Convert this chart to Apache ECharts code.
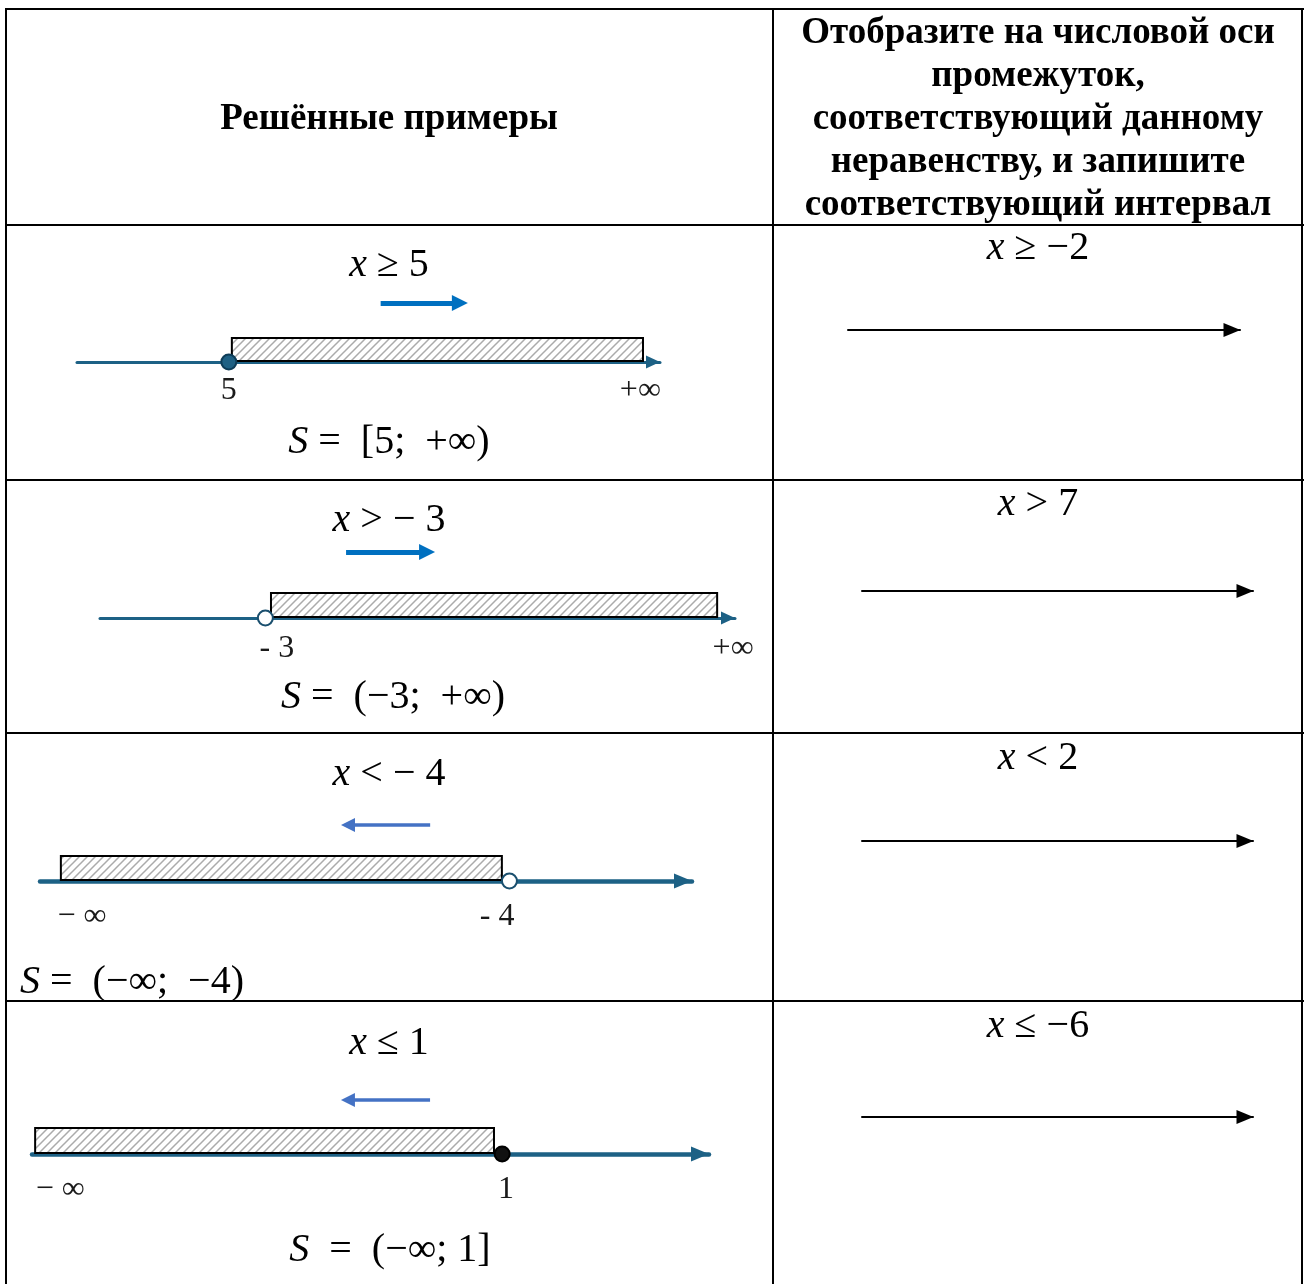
<!DOCTYPE html>
<html>
<head>
<meta charset="utf-8">
<script src="https://cdn.jsdelivr.net/npm/echarts@6/dist/echarts.min.js"></script>
<style>
html,body{margin:0;padding:0;background:#fff;}
#c{width:1306px;height:1284px;}
</style>
</head>
<body>
<div id="c"></div>
<script>
// ---------- DATA ----------
const headerLeft = 'Решённые примеры';
const headerRight = ['Отобразите на числовой оси', 'промежуток,', 'соответствующий данному', 'неравенству, и запишите', 'соответствующий интервал'];

const exInequalities = ['{i|x} ≥ 5', '{i|x} > − 3', '{i|x} < − 4', '{i|x} ≤ 1'];
const exSolutions = ['{i|S} =  [5;  +∞)', '{i|S} =  (−3;  +∞)', '{i|S} =  (−∞;  −4)', '{i|S}  =  (−∞; 1]'];
const exBoundary = [5, -3, -4, 1];
const exBoundaryClosed = [true, false, false, true];
const exShadeStart = [5.1, -2.83, -21.2, -13.9];
const exShadeEnd = [18.64, 10.66, -4.29, 0.74];
const exAxisMin = [0, -8, -22, -14];
const exAxisMax = [19.2, 11.2, 3, 7.6];
const exTickValues = [[5, 18.55], [-2.65, 11.14], [-20.39, -4.47], [-13.1, 1.12]];
const exTickLabels = [['5', '+∞'], ['- 3', '+∞'], ['− ∞', '- 4'], ['− ∞', '1']];
const exDirFrom = [10, -0.56, -7.04, -1.30];
const exDirTo = [12.61, 1.89, -10.19, -3.92];

const taskInequalities = ['{i|x} ≥ −2', '{i|x} > 7', '{i|x} < 2', '{i|x} ≤ −6'];

// ---------- LAYOUT / STYLE ----------
const exGridLeft = [77, 100, 40, 32];
const exGridEnd = [660, 735, 692, 709];
const exGridTop = [338, 593, 856, 1128];
const exAxisY = [362, 618, 881, 1154];
const exLineWidth = [3, 3, 4.5, 4.5];
const exArrowSize = [[13, 14], [13, 14], [15, 18], [15, 18]];
const exLabelMargin = [13, 15, 20, 20];
const arrowLevel = [2.46, 2.64, 2.24, 2.08];
const dirColor = ['#0070c0', '#0070c0', '#4472c4', '#4472c4'];
const dirWidth = [5, 5, 3.5, 3.5];
const dirSize = [16, 16, 14, 14];
const pointFill = ['#1f6184', '#ffffff', '#ffffff', '#111111'];
const pointStroke = ['#0e3d58', '#1a4f6e', '#1a4f6e', '#000000'];
const exIneqPos = [[389, 265], [389, 520], [389, 774], [389, 1043]];
const exSolPos = [[389, 442, 'center'], [393, 697, 'center'], [20, 982, 'left'], [390, 1250, 'center']];
const taskIneqPos = [[1038, 248], [1038, 504], [1038, 758], [1038, 1026]];
const taskLineLeft = [848, 862, 862, 862];
const taskLineEnd = [1240, 1253, 1253, 1253];
const taskLineY = [330, 591, 841, 1117];
const lineColor = '#1d6185';
const SERIF = '"Liberation Serif", "Times New Roman", serif';

function makeHatch() {
  const s = 8;
  const c = document.createElement('canvas');
  c.width = s; c.height = s;
  const g = c.getContext('2d');
  g.fillStyle = '#ffffff'; g.fillRect(0, 0, s, s);
  g.strokeStyle = '#ababab'; g.lineWidth = 1.5;
  g.beginPath();
  g.moveTo(-1, s + 1); g.lineTo(s + 1, -1);
  g.moveTo(-1, 1); g.lineTo(1, -1);
  g.moveTo(s - 1, s + 1); g.lineTo(s + 1, s - 1);
  g.stroke();
  return c;
}
const hatch = makeHatch();

const chart = echarts.init(document.getElementById('c'), null, {renderer: 'canvas'});

const grids = [], xAxes = [], yAxes = [], series = [];

for (let i = 0; i < 4; i++) {
  const h = exAxisY[i] - exGridTop[i];
  grids.push({left: exGridLeft[i], width: exGridEnd[i] - exGridLeft[i], top: exGridTop[i], height: h, outerBoundsMode: 'none', containLabel: false});
  const ticks = exTickValues[i], labs = exTickLabels[i];
  xAxes.push({
    gridIndex: i, type: 'value', min: exAxisMin[i], max: exAxisMax[i],
    axisLine: {show: true, onZero: false, symbol: ['none', 'triangle'], symbolSize: exArrowSize[i], symbolOffset: [0, -exArrowSize[i][1] / 2],
      lineStyle: {color: lineColor, width: exLineWidth[i]}},
    axisTick: {show: false}, splitLine: {show: false},
    axisLabel: {
      show: true, customValues: ticks, margin: exLabelMargin[i], fontFamily: 'Liberation Serif', fontSize: 32, color: '#1a1a1a',
      hideOverlap: false,
      formatter: function (v) {
        let best = 0, d = Infinity;
        ticks.forEach(function (t, k) { if (Math.abs(t - v) < d) { d = Math.abs(t - v); best = k; } });
        return labs[best];
      }
    }
  });
  yAxes.push({gridIndex: i, type: 'value', min: 0, max: 1, show: false});

  // hatched interval
  series.push({
    type: 'custom', xAxisIndex: i, yAxisIndex: i, clip: false, z: 2,
    data: [[exShadeStart[i], exShadeEnd[i]]],
    encode: {x: [0, 1]},
    renderItem: function (params, api) {
      const a = api.coord([api.value(0), 1]);
      const b = api.coord([api.value(1), 0]);
      return {
        type: 'rect',
        shape: {x: a[0], y: a[1], width: b[0] - a[0], height: b[1] - a[1] - 1},
        style: {fill: {image: hatch, repeat: 'repeat'}, stroke: '#000', lineWidth: 2}
      };
    }
  });
  // boundary point
  series.push({
    type: 'scatter', xAxisIndex: i, yAxisIndex: i, clip: false, z: 5, silent: true,
    data: [[exBoundary[i], 0]], symbol: 'circle', symbolSize: 15,
    itemStyle: {color: exBoundaryClosed[i] ? pointFill[i] : '#ffffff', borderColor: pointStroke[i], borderWidth: 2, opacity: 1}
  });
  // direction arrow
  series.push({
    type: 'lines', coordinateSystem: 'cartesian2d', xAxisIndex: i, yAxisIndex: i, clip: false, silent: true, z: 3,
    data: [{coords: [[exDirFrom[i], arrowLevel[i]], [exDirTo[i], arrowLevel[i]]]}],
    symbol: ['none', 'triangle'], symbolSize: dirSize[i],
    lineStyle: {color: dirColor[i], width: dirWidth[i], opacity: 1, curveness: 0}
  });
}

// empty number lines for the tasks
for (let j = 0; j < 4; j++) {
  const gi = 4 + j;
  grids.push({left: taskLineLeft[j], width: taskLineEnd[j] - taskLineLeft[j], top: taskLineY[j] - 10, height: 10, outerBoundsMode: 'none', containLabel: false});
  xAxes.push({
    gridIndex: gi, type: 'value', min: 0, max: 1,
    axisLine: {show: true, onZero: false, symbol: ['none', 'triangle'], symbolSize: [14, 17], symbolOffset: [0, -8],
      lineStyle: {color: '#000', width: 2}},
    axisTick: {show: false}, splitLine: {show: false}, axisLabel: {show: false}
  });
  yAxes.push({gridIndex: gi, type: 'value', min: 0, max: 1, show: false});
}

// ---------- TABLE & TEXT ----------
const graphic = [];
const bw = 2;
function hline(y, x1, x2) { graphic.push({type: 'line', shape: {x1: x1, y1: y, x2: x2, y2: y}, style: {stroke: '#000', lineWidth: bw}, z: 10}); }
function vline(x, y1, y2) { graphic.push({type: 'line', shape: {x1: x, y1: y1, x2: x, y2: y2}, style: {stroke: '#000', lineWidth: bw}, z: 10}); }
hline(9, 5, 1304);
[225, 480, 733, 1001].forEach(function (y) { hline(y, 5, 1304); });
vline(6, 8, 1284);
vline(773, 8, 1284);
vline(1302, 8, 1284);

const mathRich = {i: {fontStyle: 'italic', fontFamily: SERIF, fontSize: 40, fill: '#000'}};
function text(t, x, y, font, align, rich) {
  graphic.push({type: 'text', x: x, y: y, z: 20, style: {text: t, font: font, fill: '#000', align: align || 'center', verticalAlign: 'middle', rich: rich}});
}
text(headerLeft, 389, 119, 'bold 37px ' + SERIF);
headerRight.forEach(function (t, k) { text(t, 1038, 33 + k * 43, 'bold 37px ' + SERIF); });
for (let i = 0; i < 4; i++) {
  text(exInequalities[i], exIneqPos[i][0], exIneqPos[i][1], '40px ' + SERIF, 'center', mathRich);
  text(exSolutions[i], exSolPos[i][0], exSolPos[i][1], '40px ' + SERIF, exSolPos[i][2], mathRich);
  text(taskInequalities[i], taskIneqPos[i][0], taskIneqPos[i][1], '40px ' + SERIF, 'center', mathRich);
}

chart.setOption({
  animation: false,
  backgroundColor: '#ffffff',
  grid: grids, xAxis: xAxes, yAxis: yAxes, series: series,
  graphic: graphic
});
</script>
</body>
</html>
